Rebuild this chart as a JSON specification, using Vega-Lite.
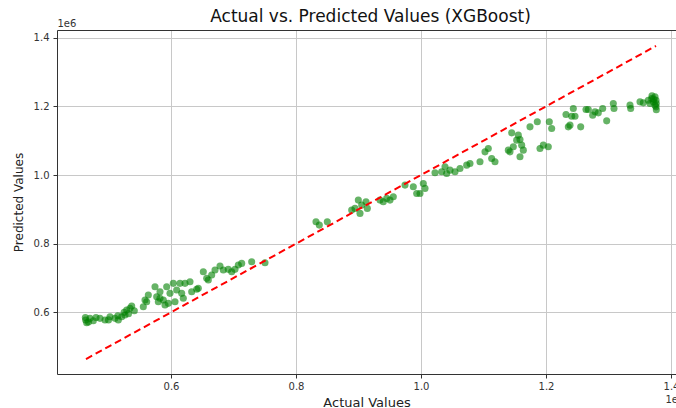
{
  "$schema": "https://vega.github.io/schema/vega-lite/v6.json",
  "width": 619,
  "height": 344,
  "autosize": "none",
  "padding": {"left": 57, "top": 30, "right": 0, "bottom": 34},
  "background": "white",
  "config": {
    "view": {"stroke": null},
    "font": "DejaVu Sans",
    "axis": {
      "labelFont": "DejaVu Sans",
      "titleFont": "DejaVu Sans",
      "labelFontSize": 10,
      "titleFontSize": 12,
      "titleFontWeight": "normal",
      "labelColor": "#333333",
      "titleColor": "#222222",
      "domainColor": "#333333",
      "tickColor": "#333333",
      "gridColor": "#c8c8c8",
      "gridWidth": 1,
      "tickSize": 4
    }
  },
  "title": {
    "text": "Actual vs. Predicted Values (XGBoost)",
    "font": "DejaVu Sans",
    "fontSize": 17,
    "fontWeight": "normal",
    "color": "#111111",
    "frame": "group",
    "anchor": "middle",
    "baseline": "alphabetic",
    "offset": -21,
    "dx": 4
  },
  "datasets": {
    "points": [
      {"actual": 463500, "predicted": 577600}, {"actual": 465100, "predicted": 569700}, {"actual": 470400, "predicted": 582500}, {"actual": 475700, "predicted": 575500},
      {"actual": 463000, "predicted": 585000}, {"actual": 468000, "predicted": 572000}, {"actual": 480000, "predicted": 585000}, {"actual": 500000, "predicted": 578000},
      {"actual": 486400, "predicted": 582500}, {"actual": 494400, "predicted": 577600}, {"actual": 502400, "predicted": 587200}, {"actual": 510400, "predicted": 582500},
      {"actual": 515700, "predicted": 577600}, {"actual": 521100, "predicted": 587200}, {"actual": 526400, "predicted": 592100}, {"actual": 529100, "predicted": 606700},
      {"actual": 534400, "predicted": 611600}, {"actual": 537100, "predicted": 618300}, {"actual": 541300, "predicted": 604700}, {"actual": 515000, "predicted": 590000},
      {"actual": 525000, "predicted": 600000}, {"actual": 532000, "predicted": 596000},
      {"actual": 555700, "predicted": 616300}, {"actual": 558400, "predicted": 635800}, {"actual": 563700, "predicted": 650400}, {"actual": 561100, "predicted": 630900},
      {"actual": 574400, "predicted": 674500}, {"actual": 577100, "predicted": 645400}, {"actual": 579700, "predicted": 630900}, {"actual": 582400, "predicted": 660000},
      {"actual": 587700, "predicted": 635800}, {"actual": 590400, "predicted": 621300}, {"actual": 593100, "predicted": 674500}, {"actual": 598400, "predicted": 655300},
      {"actual": 603700, "predicted": 684400}, {"actual": 606400, "predicted": 630900}, {"actual": 609100, "predicted": 664900}, {"actual": 614400, "predicted": 684400},
      {"actual": 617100, "predicted": 655300}, {"actual": 622400, "predicted": 684400}, {"actual": 630400, "predicted": 689100}, {"actual": 633100, "predicted": 660000},
      {"actual": 641100, "predicted": 667000}, {"actual": 651700, "predicted": 718200}, {"actual": 657100, "predicted": 699000}, {"actual": 665100, "predicted": 708600},
      {"actual": 582400, "predicted": 640800}, {"actual": 595700, "predicted": 626200}, {"actual": 619700, "predicted": 640800}, {"actual": 643700, "predicted": 669900},
      {"actual": 659700, "predicted": 694000}, {"actual": 670400, "predicted": 723100}, {"actual": 678400, "predicted": 734800}, {"actual": 683700, "predicted": 723100},
      {"actual": 691700, "predicted": 725200}, {"actual": 697100, "predicted": 718200}, {"actual": 702400, "predicted": 725200}, {"actual": 707700, "predicted": 737700},
      {"actual": 713100, "predicted": 742600}, {"actual": 729100, "predicted": 747300}, {"actual": 750400, "predicted": 744400},
      {"actual": 832000, "predicted": 863700}, {"actual": 837300, "predicted": 854100}, {"actual": 850100, "predicted": 863700},
      {"actual": 889100, "predicted": 897800}, {"actual": 894400, "predicted": 902800}, {"actual": 899700, "predicted": 926900}, {"actual": 902400, "predicted": 888200},
      {"actual": 905100, "predicted": 912400}, {"actual": 912000, "predicted": 922000}, {"actual": 914100, "predicted": 902800},
      {"actual": 934400, "predicted": 926900}, {"actual": 939700, "predicted": 922000}, {"actual": 945100, "predicted": 931900}, {"actual": 950400, "predicted": 926900},
      {"actual": 955700, "predicted": 936500}, {"actual": 974400, "predicted": 970600}, {"actual": 987700, "predicted": 965600}, {"actual": 993100, "predicted": 946400},
      {"actual": 998400, "predicted": 946400}, {"actual": 1003700, "predicted": 975500}, {"actual": 1006400, "predicted": 961000},
      {"actual": 1022400, "predicted": 1006400}, {"actual": 1033100, "predicted": 1009300}, {"actual": 1038400, "predicted": 1023900}, {"actual": 1041100, "predicted": 1004600},
      {"actual": 1046400, "predicted": 1014200}, {"actual": 1054400, "predicted": 1009300}, {"actual": 1062400, "predicted": 1019200}, {"actual": 1073100, "predicted": 1028800},
      {"actual": 1078400, "predicted": 1033800}, {"actual": 1094400, "predicted": 1038400}, {"actual": 1102400, "predicted": 1067500}, {"actual": 1107700, "predicted": 1077400},
      {"actual": 1113100, "predicted": 1048300}, {"actual": 1118400, "predicted": 1038400}, {"actual": 1139700, "predicted": 1072500}, {"actual": 1142400, "predicted": 1067500},
      {"actual": 1147700, "predicted": 1082100}, {"actual": 1153100, "predicted": 1101600}, {"actual": 1145100, "predicted": 1122800}, {"actual": 1155700, "predicted": 1116100},
      {"actual": 1158400, "predicted": 1103600}, {"actual": 1161100, "predicted": 1087000}, {"actual": 1163700, "predicted": 1072500}, {"actual": 1158400, "predicted": 1053000},
      {"actual": 1174400, "predicted": 1140300}, {"actual": 1186100, "predicted": 1154900}, {"actual": 1190400, "predicted": 1077400}, {"actual": 1195700, "predicted": 1087000},
      {"actual": 1203700, "predicted": 1082100}, {"actual": 1205300, "predicted": 1154900}, {"actual": 1209100, "predicted": 1135600},
      {"actual": 1232000, "predicted": 1176400}, {"actual": 1235700, "predicted": 1140300}, {"actual": 1238400, "predicted": 1145300}, {"actual": 1243700, "predicted": 1193900},
      {"actual": 1241100, "predicted": 1171400}, {"actual": 1246400, "predicted": 1171400}, {"actual": 1255500, "predicted": 1140300},
      {"actual": 1264000, "predicted": 1191000}, {"actual": 1267700, "predicted": 1191000}, {"actual": 1274700, "predicted": 1174400}, {"actual": 1278400, "predicted": 1184000},
      {"actual": 1283700, "predicted": 1181100}, {"actual": 1290700, "predicted": 1193900}, {"actual": 1297100, "predicted": 1157800},
      {"actual": 1307700, "predicted": 1208400}, {"actual": 1308800, "predicted": 1193900}, {"actual": 1334400, "predicted": 1203500}, {"actual": 1335500, "predicted": 1193900},
      {"actual": 1350400, "predicted": 1213100}, {"actual": 1355700, "predicted": 1210200}, {"actual": 1363700, "predicted": 1218000}, {"actual": 1366400, "predicted": 1208400},
      {"actual": 1369100, "predicted": 1223000}, {"actual": 1371700, "predicted": 1213100}, {"actual": 1374400, "predicted": 1227600}, {"actual": 1376000, "predicted": 1218000},
      {"actual": 1376000, "predicted": 1198500}, {"actual": 1376500, "predicted": 1208400}, {"actual": 1374400, "predicted": 1203500}, {"actual": 1369600, "predicted": 1230500},
      {"actual": 1376500, "predicted": 1190000}, {"actual": 1372000, "predicted": 1221000}
    ],
    "ideal": [
      {"actual": 464000, "predicted": 464000},
      {"actual": 1376000, "predicted": 1376000}
    ]
  },
  "layer": [
    {
      "data": {"name": "points"},
      "mark": {"type": "circle", "color": "#008000", "opacity": 0.6, "size": 50},
      "encoding": {
        "x": {
          "field": "actual", "type": "quantitative",
          "scale": {"domain": [417600, 1408000], "nice": false, "zero": false},
          "axis": {
            "orient": "bottom",
            "title": "Actual Values",
            "titleFontSize": 13,
            "values": [600000, 800000, 1000000, 1200000, 1400000],
            "labelExpr": "format(datum.value / 1e6, '.1f')",
            "labelPadding": 3,
            "titlePadding": 5,
            "grid": true
          }
        },
        "y": {
          "field": "predicted", "type": "quantitative",
          "scale": {"domain": [420400, 1422400], "nice": false, "zero": false},
          "axis": {
            "orient": "left",
            "title": "Predicted Values",
            "values": [600000, 800000, 1000000, 1200000, 1400000],
            "labelExpr": "format(datum.value / 1e6, '.1f')",
            "labelPadding": 4,
            "titlePadding": 8,
            "grid": true
          }
        }
      }
    },
    {
      "data": {"name": "ideal"},
      "mark": {"type": "line", "color": "#ff0000", "strokeWidth": 2, "strokeDash": [7, 4]},
      "encoding": {
        "x": {
          "field": "actual", "type": "quantitative",
          "axis": {
            "orient": "top",
            "labels": false,
            "ticks": false,
            "grid": false,
            "domain": true,
            "title": "1e6",
            "titleFontSize": 10,
            "titleColor": "#333333",
            "titleAnchor": "start",
            "titleAlign": "left",
            "titleBaseline": "alphabetic",
            "titleX": 0,
            "titleY": -4
          }
        },
        "y": {
          "field": "predicted", "type": "quantitative",
          "axis": {
            "orient": "right",
            "labels": false,
            "ticks": false,
            "grid": false,
            "domain": false,
            "title": "1e6",
            "titleAngle": 0,
            "titleFontSize": 10,
            "titleColor": "#333333",
            "titleAlign": "left",
            "titleBaseline": "alphabetic",
            "titleX": -11,
            "titleY": 372
          }
        }
      }
    }
  ],
  "resolve": {"axis": {"x": "independent", "y": "independent"}}
}
